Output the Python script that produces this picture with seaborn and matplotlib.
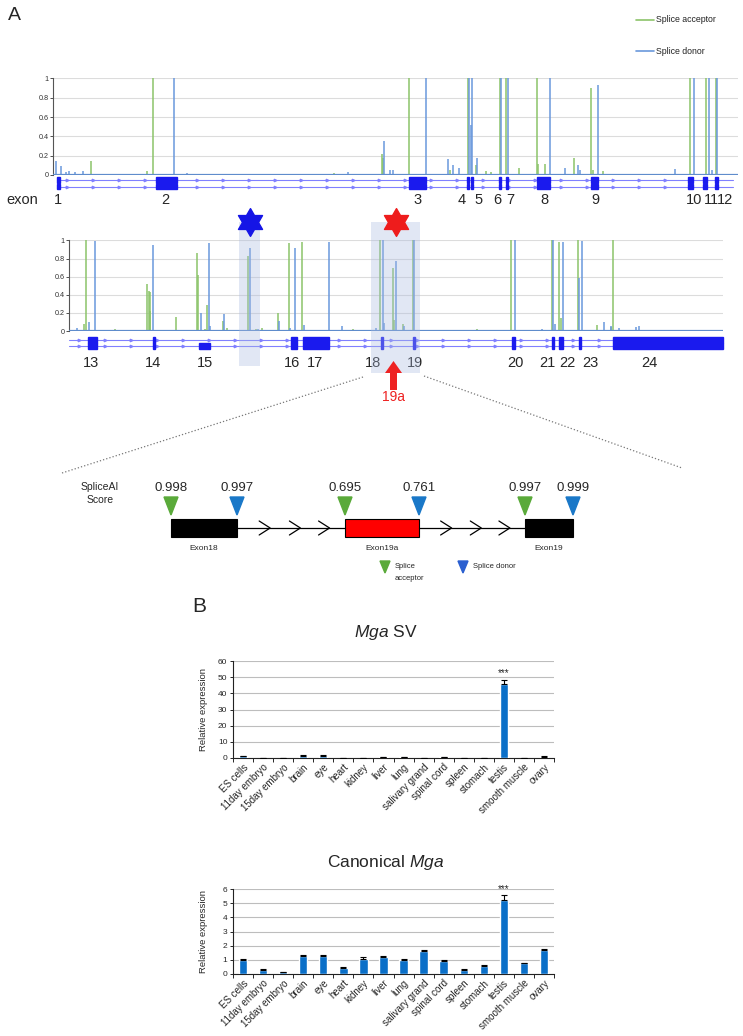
import numpy as np
import pandas as pd
import matplotlib
matplotlib.use('Agg')
import matplotlib.pyplot as plt
import seaborn as sns
from matplotlib.transforms import blended_transform_factory
from matplotlib.patches import Rectangle, Polygon, FancyArrow
from matplotlib.path import Path

sns.set_style('white')
plt.rcParams['font.family'] = ['Liberation Sans', 'DejaVu Sans']
plt.rcParams['mathtext.fontset'] = 'custom'
plt.rcParams['mathtext.it'] = 'Liberation Sans:italic'
plt.rcParams['mathtext.rm'] = 'Liberation Sans'

# ---------------- DATA ----------------
# Panel A, upper track (genomic position, arbitrary units) - SpliceAI scores
top_acc_pos = [91, 147, 153, 334, 382, 383, 409, 450, 468, 476, 486, 491, 500, 506, 519,
               537, 538, 545, 574, 591, 593, 603, 690, 706, 716]
top_acc_val = [0.15, 0.04, 1.0, 0.02, 0.22, 0.18, 1.0, 0.05, 1.0, 0.1, 0.04, 0.03, 1.0, 1.0, 0.07,
               1.0, 0.11, 0.11, 0.18, 0.9, 0.05, 0.04, 1.0, 1.0, 1.0]
top_don_pos = [56, 61, 66, 69, 75, 83, 174, 187, 348, 384, 390, 393, 426, 448, 453, 459, 469,
               471, 472, 477, 501.5, 508.5, 550, 565, 578, 580, 598, 675, 694, 709, 712, 717]
top_don_val = [0.14, 0.09, 0.03, 0.04, 0.03, 0.04, 1.0, 0.02, 0.03, 0.35, 0.05, 0.05, 1.0, 0.17,
               0.10, 0.07, 1.0, 0.52, 1.0, 0.18, 1.0, 1.0, 1.0, 0.07, 0.10, 0.05, 0.93, 0.06,
               1.0, 1.0, 0.05, 1.0]
top_exons = [(57, 60), (156, 177), (409, 426), (467, 469.5), (471, 473.5), (499, 501.5),
             (506, 508.5), (537, 550), (591, 598), (688, 693), (703, 707), (715, 718)]
top_exon_labels = ['1', '2', '3', '4', '5', '6', '7', '8', '9', '10', '11', '12']
top_label_pos = [58, 165, 418, 462, 479, 497, 510, 544, 595, 694, 711, 725]

# Panel A, lower track
bot_acc_pos = [84, 85.7, 115, 147, 148.5, 149.5, 150, 175.7, 197, 198, 205, 206.7, 223, 227, 248,
               256, 262, 277.7, 289, 301.7, 353, 380, 393.4, 394, 403, 413.4, 442, 457, 477, 511,
               551.6, 559, 560.5, 578, 596.7, 611, 613.4]
bot_acc_val = [0.08, 1.0, 0.02, 0.52, 0.44, 0.43, 0.22, 0.15, 0.86, 0.62, 0.02, 0.29, 0.11, 0.03, 0.83,
               0.02, 0.03, 0.2, 0.97, 0.98, 0.02, 1.0, 0.70, 0.12, 0.08, 1.0, 0.01, 0.01, 0.02, 1.0,
               1.0, 0.98, 0.14, 1.0, 0.07, 0.04, 1.0]
bot_don_pos = [77, 89, 95, 123, 152.7, 201, 209, 209.5, 224, 250, 258, 279, 290, 295, 303.7,
               328.7, 341.7, 376, 382.7, 384, 396, 404, 414.4, 542, 515, 553, 554.5, 562.6, 579, 582,
               604, 611, 619, 636, 639]
bot_don_val = [0.03, 0.1, 0.99, 0.01, 0.95, 0.2, 0.97, 0.05, 0.19, 0.92, 0.02, 0.11, 0.03, 0.92, 0.07,
               0.98, 0.05, 0.03, 1.0, 0.09, 0.77, 0.06, 1.0, 0.02, 1.0, 1.0, 0.08, 0.98, 0.58, 0.99,
               0.1, 0.06, 0.03, 0.04, 0.05]
bot_exons = [(88, 97), (152.5, 154.5), (290.5, 296.5), (303, 329), (381, 382.5), (413.4, 415),
             (512, 515), (552, 553.6), (559, 563), (579, 581), (613, 723)]
bot_exons_lower = [(199, 210)]
bot_exon_labels = ['13', '14', '15', '16', '17', '18', '19', '20', '21', '22', '23', '24']
bot_label_pos = [91, 153, 205, 292, 315, 373, 415, 515, 547, 567, 590, 649]
highlight_blue = (239, 260)
highlight_red = (371, 420)

# Splice diagram
diag_exons = ['Exon18', 'Exon19a', 'Exon19']
diag_acc_scores = [0.998, 0.695, 0.997]
diag_don_scores = [0.997, 0.761, 0.999]

# Panel B
tissues = ['ES cells', '11day embryo', '15day embryo', 'brain', 'eye', 'heart', 'kidney', 'liver',
           'lung', 'salivary grand', 'spinal cord', 'spleen', 'stomach', 'testis', 'smooth muscle', 'ovary']
sv_vals = [1.0, 0.1, 0.05, 1.5, 1.5, 0.1, 0.1, 0.7, 0.6, 0.2, 0.6, 0.1, 0.1, 46.0, 0.2, 0.8]
sv_err = [0.2, 0.02, 0.01, 0.3, 0.3, 0.02, 0.02, 0.15, 0.15, 0.05, 0.15, 0.02, 0.02, 2.5, 0.05, 0.15]
can_vals = [1.0, 0.3, 0.15, 1.3, 1.3, 0.45, 1.05, 1.2, 1.0, 1.6, 0.9, 0.3, 0.6, 5.25, 0.75, 1.7]
can_err = [0.03, 0.03, 0.02, 0.04, 0.04, 0.03, 0.12, 0.04, 0.03, 0.1, 0.12, 0.03, 0.03, 0.35, 0.04, 0.04]

# ---------------- STYLE ----------------
GREEN = '#8cc46a'
BLUE = '#6a98dc'
BASE = '#5f8ccc'
EXON = '#1a1aee'
INTRON = '#8080ff'
BAR = '#0a6fc8'

W, H = 743, 1036
fig = plt.figure(figsize=(W / 100, H / 100), dpi=100)


def px_axes(x0, y0, x1, y1, **kw):
    return fig.add_axes([x0 / W, 1 - y1 / H, (x1 - x0) / W, (y1 - y0) / H], **kw)


ov = fig.add_axes([0, 0, 1, 1], zorder=10)
ov.set_xlim(0, W)
ov.set_ylim(H, 0)
ov.axis('off')
ov.patch.set_alpha(0)


def splice_panel(ax, acc_pos, acc_val, don_pos, don_val, xlim):
    ax.vlines(acc_pos, 0, acc_val, color=GREEN, lw=1.1, zorder=3)
    ax.vlines(don_pos, 0, don_val, color=BLUE, lw=1.1, zorder=3)
    ax.axhline(0, color=BASE, lw=1.6, zorder=4)
    ax.set_xlim(*xlim)
    ax.set_ylim(0, 1.005)
    ax.set_yticks([0, 0.2, 0.4, 0.6, 0.8, 1.0])
    ax.set_yticklabels(['0', '0.2', '0.4', '0.6', '0.8', '1'])
    ax.yaxis.grid(True, color='#dcdcdc', lw=0.8)
    ax.set_axisbelow(True)
    ax.set_xticks([])
    for s in ['top', 'right', 'bottom']:
        ax.spines[s].set_visible(False)
    ax.spines['left'].set_color('#555555')
    ax.spines['left'].set_linewidth(0.8)
    ax.tick_params(axis='y', labelsize=5.2, length=2, width=0.6, pad=1, colors='#333333', left=True)


def exon_track(ax, start, end, exons_both, exons_lower, y_top, y_bot, labels, label_pos, label_y):
    tr = blended_transform_factory(ax.transData, ov.transData)
    for y in (y_top, y_bot):
        ov.plot([start, end], [y, y], color=INTRON, lw=0.8, transform=tr, zorder=1)
        marks = np.arange(start + 10, end, 26)
        ov.plot(marks, [y] * len(marks), ls='none', marker='>', ms=1.8, color=INTRON,
                transform=tr, zorder=1)
        for a, b in exons_both:
            ov.add_patch(Rectangle((a, y - 2.6), b - a, 5.2, color=EXON, transform=tr, zorder=2))
    for a, b in exons_lower:
        ov.add_patch(Rectangle((a, y_bot - 2.6), b - a, 5.2, color=EXON, transform=tr, zorder=2))
    for lab, p in zip(labels, label_pos):
        ov.text(p, label_y, lab, transform=tr, ha='center', va='center', fontsize=10.5)
    return tr


# ---------------- PANEL A ----------------
ov.text(8, 16, 'A', fontsize=14, ha='left', va='center')
ov.plot([636, 654], [20, 20], color=GREEN, lw=1.2)
ov.text(656, 20, 'Splice acceptor', fontsize=6.3, va='center', ha='left', color='#222222')
ov.plot([636, 654], [51, 51], color=BLUE, lw=1.2)
ov.text(656, 51, 'Splice donor', fontsize=6.3, va='center', ha='left', color='#222222')

ax_top = px_axes(53, 78, 738, 175)
splice_panel(ax_top, top_acc_pos, top_acc_val, top_don_pos, top_don_val, (53, 738))
exon_track(ax_top, 57, 733, top_exons, [], 180, 186.5, top_exon_labels, top_label_pos, 200)
ov.text(6, 200, 'exon', fontsize=10.5, ha='left', va='center')

ax_bot = px_axes(69, 240, 723, 331)
splice_panel(ax_bot, bot_acc_pos, bot_acc_val, bot_don_pos, bot_don_val, (69, 723))
trb = exon_track(ax_bot, 69, 723, bot_exons, bot_exons_lower, 340, 346, bot_exon_labels,
                 bot_label_pos, 363)

# highlighted regions + stars
hexagram = Path(np.array([[np.cos(np.pi / 2 + k * np.pi / 6) * (1 if k % 2 == 0 else 0.577),
                           np.sin(np.pi / 2 + k * np.pi / 6) * (1 if k % 2 == 0 else 0.577)]
                          for k in range(12)] + [[0, 1]]), closed=True)
for (a, b), col, ybot in [(highlight_blue, '#1515e6', 366), (highlight_red, '#ee1c1c', 373)]:
    ov.add_patch(Rectangle((a, 222), b - a, ybot - 222, color='#aabbe0', alpha=0.35,
                           transform=trb, zorder=5, lw=0))
    ov.plot([(a + b) / 2], [222], marker=hexagram, ms=20, color=col, transform=trb, zorder=6)

xr = (highlight_red[0] + highlight_red[1]) / 2 - 2
ov.add_patch(FancyArrow(xr, 390, 0, -29, width=7, head_width=17, head_length=12,
                        length_includes_head=True, color='#ee2222', transform=trb, zorder=7, lw=0))
ov.text(xr, 397, '19a', color='#ee2222', fontsize=10, ha='center', va='center', transform=trb)

# dotted zoom lines
ov.plot([363, 62], [377, 473], ls=':', color='#777777', lw=0.9)
ov.plot([424, 682], [376, 468], ls=':', color='#777777', lw=0.9)

# ---------------- SPLICE DIAGRAM ----------------
box_spans = [(171, 237), (345, 419), (525, 573)]
box_cols = ['black', '#ff0000', 'black']
yb0, yb1 = 519, 537
ymid = (yb0 + yb1) / 2
ov.plot([box_spans[0][1], box_spans[1][0]], [ymid, ymid], color='black', lw=0.9)
ov.plot([box_spans[1][1], box_spans[2][0]], [ymid, ymid], color='black', lw=0.9)
for i in range(2):
    a, b = box_spans[i][1], box_spans[i + 1][0]
    for f in (0.27, 0.55, 0.82):
        cx = a + (b - a) * f
        ov.plot([cx - 7, cx + 4, cx - 7], [ymid - 7, ymid, ymid + 7], color='black', lw=0.9)
for (a, b), col, name, sa, sd in zip(box_spans, box_cols, diag_exons, diag_acc_scores, diag_don_scores):
    ov.add_patch(Rectangle((a, yb0), b - a, yb1 - yb0, facecolor=col, edgecolor='black', lw=0.8))
    ov.text((a + b) / 2, 548, name, fontsize=6, ha='center', va='center')
    for x, s, c in [(a, sa, '#5aaa3a'), (b, sd, '#1a78c8')]:
        ov.add_patch(Polygon([[x - 7, 497], [x + 7, 497], [x, 515]], closed=True, color=c))
        ov.text(x, 488, f'{s:.3f}', fontsize=9.5, ha='center', va='center')
ov.text(100, 487, 'SpliceAI', fontsize=7.5, ha='center', va='center')
ov.text(100, 500, 'Score', fontsize=7.5, ha='center', va='center')
ov.add_patch(Polygon([[380, 561], [390, 561], [385, 573]], closed=True, color='#5aaa3a'))
ov.text(395, 566, 'Splice', fontsize=5.5, ha='left', va='center')
ov.text(395, 578, 'acceptor', fontsize=5.5, ha='left', va='center')
ov.add_patch(Polygon([[458, 561], [468, 561], [463, 573]], closed=True, color='#2a5fd0'))
ov.text(473, 566, 'Splice donor', fontsize=5.5, ha='left', va='center')

# ---------------- PANEL B ----------------
ov.text(192, 607, 'B', fontsize=15, ha='left', va='center')


def bar_panel(ax, vals, errs, ymax, step):
    df = pd.DataFrame({'tissue': tissues, 'value': vals})
    sns.barplot(data=df, x='tissue', y='value', color=BAR, width=0.42, saturation=1, ax=ax, zorder=3)
    xs = np.arange(len(tissues))
    ax.errorbar(xs, vals, yerr=[np.zeros(len(vals)), errs], fmt='none', ecolor='black',
                elinewidth=0.8, capsize=2.3, capthick=0.8, zorder=4)
    ti = tissues.index('testis')
    ax.text(ti, vals[ti] + errs[ti] + ymax * 0.012, '***', ha='center', va='bottom', fontsize=7)
    ax.set_xlim(-0.5, len(tissues) - 0.5)
    ax.set_ylim(0, ymax)
    ax.set_yticks(np.arange(0, ymax + step / 2, step))
    ax.yaxis.grid(True, color='#bdbdbd', lw=0.8)
    ax.set_axisbelow(True)
    ax.set_xticks(xs)
    ax.set_xticklabels(tissues, rotation=45, ha='right', rotation_mode='anchor', fontsize=7)
    ax.set_xticks(np.arange(-0.5, len(tissues), 1), minor=True)
    ax.tick_params(axis='x', which='major', length=0, pad=3)
    ax.tick_params(axis='x', which='minor', length=3, width=0.7, bottom=True, direction='out')
    ax.tick_params(axis='y', labelsize=6, length=2.5, width=0.7, left=True, pad=1.5)
    ax.set_xlabel('')
    ax.set_ylabel('Relative expression', fontsize=6.8)
    ax.yaxis.set_label_coords(-0.078, 0.5)
    for s in ['top', 'right']:
        ax.spines[s].set_visible(False)
    for s in ['left', 'bottom']:
        ax.spines[s].set_color('#222222')
        ax.spines[s].set_linewidth(0.8)


ax_sv = px_axes(233, 661, 554, 758)
bar_panel(ax_sv, sv_vals, sv_err, 60, 10)
ov.text(386, 633, r'$\mathit{Mga}$ SV', fontsize=12.5, ha='center', va='center')

ax_can = px_axes(233, 889, 554, 974)
bar_panel(ax_can, can_vals, can_err, 6, 1)
ov.text(386, 862, r'Canonical $\mathit{Mga}$', fontsize=12.5, ha='center', va='center')

fig.savefig('out.png', dpi=100)
